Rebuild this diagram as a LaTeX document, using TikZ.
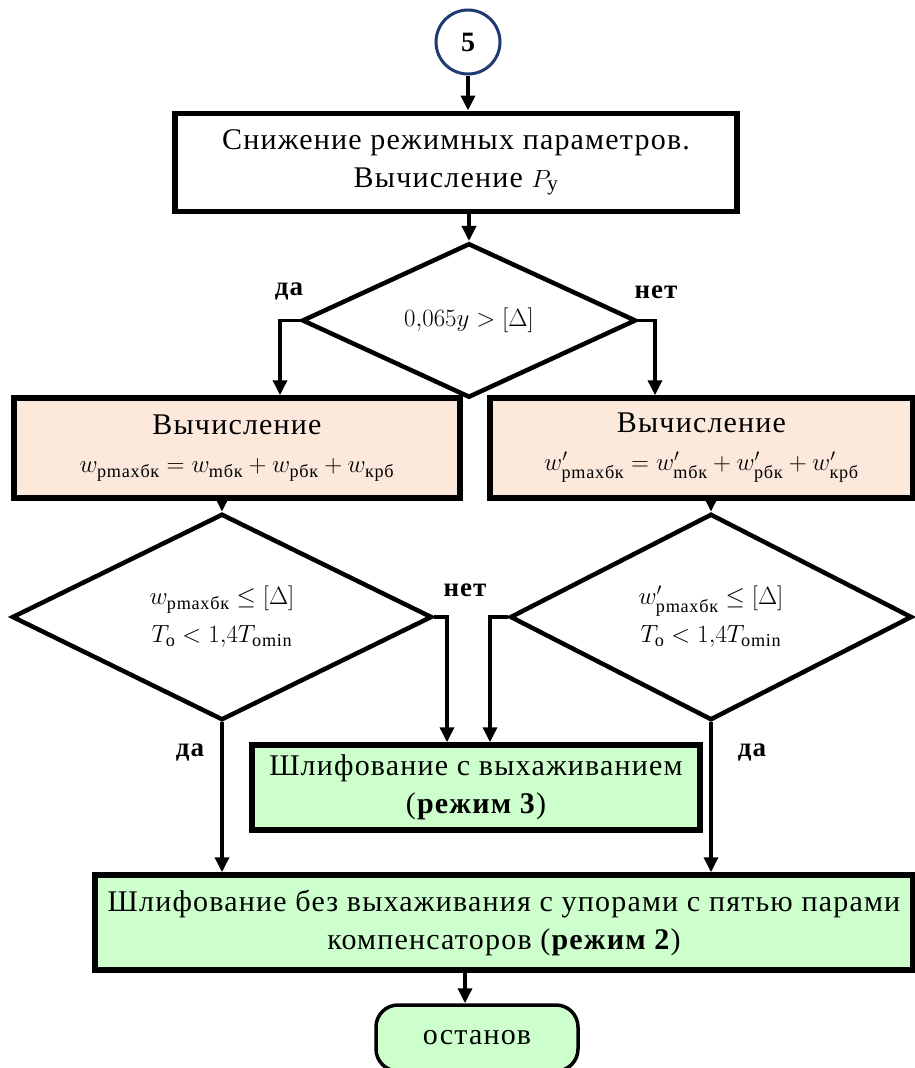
\documentclass[tikz,border=0pt]{standalone}
\usepackage{amsmath}
\usepackage{fontspec}
\setmainfont{Liberation Serif}[LetterSpace=4]
\usepackage{xcolor}
\usetikzlibrary{shapes.geometric, arrows.meta, positioning, shadows}

\definecolor{navy}{HTML}{1F3A70}
\definecolor{peach}{HTML}{FCE9DB}
\definecolor{mint}{HTML}{CCFFCC}

\newcommand{\formula}[1]{{\fontsize{26}{30}\selectfont$#1$}}

\begin{document}
\begin{tikzpicture}[
    x=1pt, y=-1pt,
    font=\fontsize{30}{38}\selectfont,
    block/.style={rectangle, draw, line width=5.5pt, align=center, inner sep=0pt, fill=white,
                  drop shadow={shadow xshift=3pt, shadow yshift=-3pt, fill=gray!55}},
    calc_block/.style={block, fill=peach, minimum height=100pt},
    mode_block/.style={block, fill=mint},
    decision/.style={diamond, draw, line width=4.5pt, align=center, inner sep=0pt, fill=white},
    arrow/.style={-{Triangle[length=15pt, width=14pt]}, line width=3.5pt},
    label_style/.style={font=\fontsize{27}{28}\selectfont\bfseries}
]
\useasboundingbox (0,0) rectangle (915,1068);
\clip (0,0) rectangle (915,1068);

\node[circle, draw=navy, line width=3pt, minimum size=64pt, inner sep=0pt, font=\fontsize{28}{28}\selectfont\bfseries] (five) at (468,42) {5};
\node[block, minimum width=562pt, minimum height=98pt, below=35pt of five, xshift=-12pt] (reduce) {Снижение режимных параметров.\\Вычисление $P_{\text{у}}$};
\node[decision, minimum width=334pt, minimum height=153pt, below=27pt of reduce, xshift=13pt] (cond1) {{\fontsize{30}{32}\selectfont$0{,}065y>[\Delta]$}};

\node[calc_block, minimum width=446pt] (calcL) at (237,448) {Вычисление\\\formula{w_{\text{pmaxбк}}= w_{\text{mбк}}+ w_{\text{pбк}}+w_{\text{крб}}}};
\node[calc_block, minimum width=423pt] (calcR) at (701.5,448) {Вычисление\\\formula{w'_{\text{pmaxбк}}= w'_{\text{mбк}}+w'_{\text{pбк}}+ w_{\text{крб}}'}};

\node[decision, minimum width=420pt, minimum height=179pt] (cond2L) at (222,617) {\formula{w_{\text{pmaxбк}}\le[\Delta]}\\\formula{T_{\text{o}}<1{,}4T_{\text{omin}}}};
\node[decision, minimum width=402pt, minimum height=179pt] (cond2R) at (711,617) {\formula{w'_{\text{pmaxбк}}\le[\Delta]}\\\formula{T_{\text{o}}<1{,}4T_{\text{omin}}}};

\node[mode_block, minimum width=448pt, minimum height=85pt] (grind3) at (476,787.5) {Шлифование с выхаживанием\\(\textbf{режим 3})};
\node[mode_block, minimum width=818pt, minimum height=95pt] (grind2) at (504,922.5) {Шлифование без выхаживания с упорами с пятью парами\\компенсаторов (\textbf{режим 2})};

\node[rectangle, rounded corners=22pt, draw, line width=3.5pt, fill=mint, minimum width=202pt, minimum height=66pt] (stop) at (477,1038) {останов};

\node[label_style] (yes1) at (289,292) {да};
\node[label_style] (no1) at (656,292) {нет};
\node[label_style] (no2) at (465,590) {нет};
\node[label_style] (yes2) at (190,753) {да};
\node[label_style] (yes3) at (752,753) {да};

\draw[arrow] (five) -- (five.south |- reduce.north);
\draw[arrow] (cond1.north |- reduce.south) -- (cond1);
\draw[arrow] (cond1.west) -| ([xshift=43pt]calcL.north);
\draw[arrow] (cond1.east) -| ([xshift=-46.5pt]calcR.north);
\draw[arrow] (cond2L.north |- calcL.south) -- (cond2L);
\draw[arrow] (cond2R.north |- calcR.south) -- (cond2R);
\draw[arrow] (cond2L.east) -| ([xshift=-29pt]grind3.north);
\draw[arrow] (cond2R.west) -| ([xshift=14pt]grind3.north);
\draw[arrow] (cond2L) -- (cond2L.south |- grind2.north);
\draw[arrow] (cond2R) -- (cond2R.south |- grind2.north);
\draw[arrow] ([xshift=-12pt]stop.north |- grind2.south) -- ([xshift=-12pt]stop.north);
\end{tikzpicture}
\end{document}
